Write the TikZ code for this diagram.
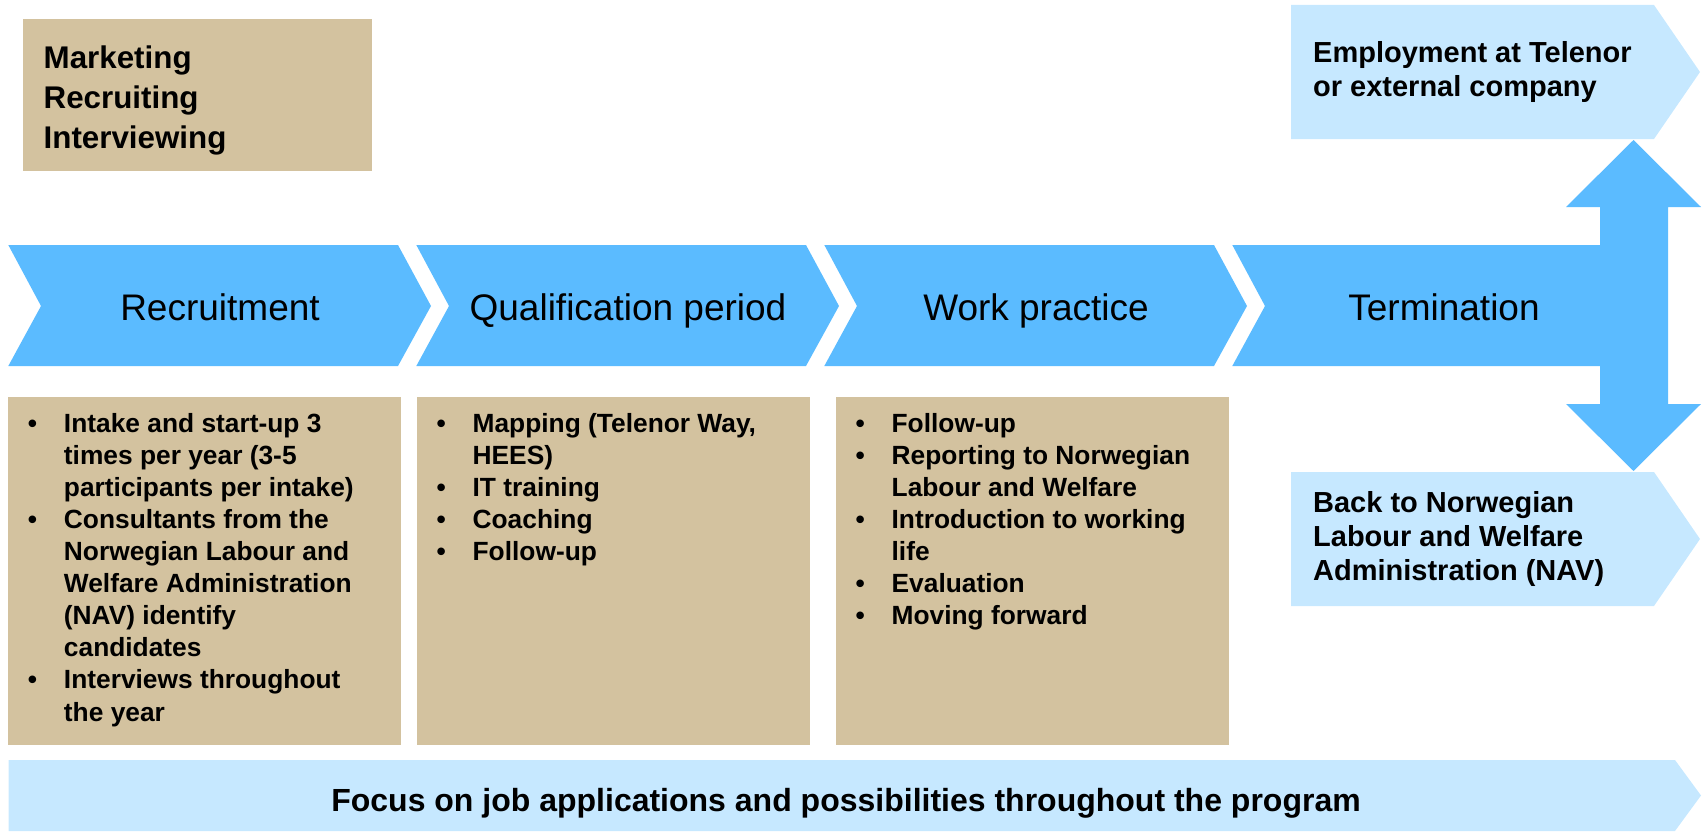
\documentclass[tikz,border=0pt]{standalone}
\usepackage{fontspec}
\setmainfont{Liberation Sans}
\usepackage{tikz}
\usetikzlibrary{positioning}

\definecolor{azul}{HTML}{5BBBFF}
\definecolor{celeste}{HTML}{C6E8FF}
\definecolor{arena}{HTML}{D3C29F}

\newcommand{\bul}{\makebox[10.8pt][l]{\textbullet}}
\newcommand{\sig}{\hspace*{10.8pt}}

\begin{document}
\begin{tikzpicture}[x=0.3pt, y=-0.3pt,
    every node/.style={inner sep=0pt, text=black},
    etapa/.style={font=\fontsize{11.1pt}{13pt}\selectfont, anchor=base},
    lista/.style={font=\fontsize{7.9pt}{9.63pt}\selectfont\bfseries, align=left, anchor=base west},
    salida/.style={font=\fontsize{8.7pt}{10.2pt}\selectfont\bfseries, align=left, anchor=west}]
  \useasboundingbox (0,0) rectangle (1703,832);

  % Cajas
  \fill[arena] (23,19) rectangle (372,171);
  \fill[arena] (8.3,397) rectangle (401,745);
  \fill[arena] (417,397) rectangle (810,745);
  \fill[arena] (836,397) rectangle (1229,745);

  % Flechas
  \fill[azul] (8.3,245) -- (398,245) -- (431,306) -- (398,366) -- (8.3,366) -- (41,306) -- cycle;
  \fill[azul] (416.3,245) -- (806,245) -- (839,306) -- (806,366) -- (416.3,366) -- (449,306) -- cycle;
  \fill[azul] (824.3,245) -- (1214,245) -- (1247,306) -- (1214,366) -- (824.3,366) -- (857,306) -- cycle;
  \fill[azul] (1232.3,245) -- (1600,245) -- (1600,207) -- (1566,207) -- (1633.5,140) -- (1701,207)
    -- (1668,207) -- (1668,404) -- (1701,404) -- (1633.5,471) -- (1566,404) -- (1600,404)
    -- (1600,366) -- (1232.3,366) -- (1265,306) -- cycle;
  \fill[celeste] (1291,5) -- (1654,5) -- (1700,72) -- (1654,139) -- (1291,139) -- cycle;
  \fill[celeste] (1291,472) -- (1654,472) -- (1700,539) -- (1654,606) -- (1291,606) -- cycle;
  \fill[celeste] (8.7,760) -- (1675,760) -- (1701,795.5) -- (1675,831) -- (8.7,831) -- cycle;

  % Textos (base = ultima linea)
  \node[font=\fontsize{9.4pt}{12pt}\selectfont\bfseries, align=left, anchor=base west] (mkt) at (43,148)
    {Marketing\\Recruiting\\Interviewing};
  \node[etapa] (rec) at (220,320) {Recruitment};
  \node[etapa] (qual) at (628,320) {Qualification period};
  \node[etapa] (work) at (1036,320) {Work practice};
  \node[etapa] (term) at (1444,320) {Termination};
  \node[salida] (emp) at (1312.5,72) {Employment at Telenor\\or external company};
  \node[salida] (nav) at (1312.5,539) {Back to Norwegian\\Labour and Welfare\\Administration (NAV)};

  \node[lista] (l1) at (27.3,721) {\bul Intake and start-up 3\\ \sig times per year (3-5\\ \sig participants per intake)\\
    \bul Consultants from the\\ \sig Norwegian Labour and\\ \sig Welfare Administration\\ \sig (NAV) identify\\ \sig candidates\\
    \bul Interviews throughout\\ \sig the year};
  \node[lista] (l2) at (436,560.4) {\bul Mapping (Telenor Way,\\ \sig HEES)\\ \bul IT training\\ \bul Coaching\\ \bul Follow-up};
  \node[lista] (l3) at (855,624.6) {\bul Follow-up\\ \bul Reporting to Norwegian\\ \sig Labour and Welfare\\
    \bul Introduction to working\\ \sig life\\ \bul Evaluation\\ \bul Moving forward};

  \node[font=\fontsize{9.6pt}{11pt}\selectfont\bfseries, anchor=base] (foco) at (846,811)
    {Focus on job applications and possibilities throughout the program};
\end{tikzpicture}
\end{document}
